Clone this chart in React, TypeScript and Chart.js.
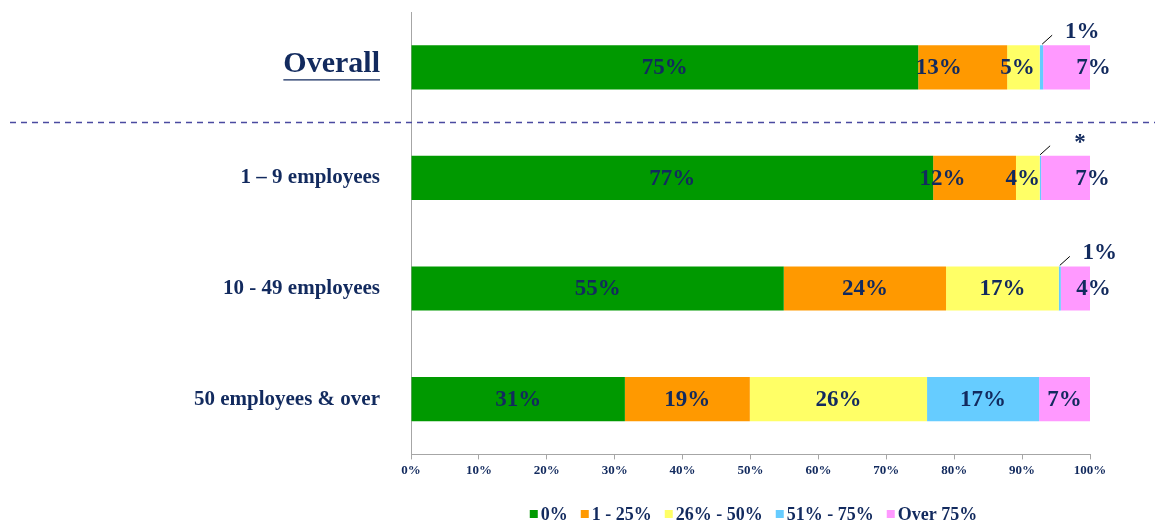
import React, { useEffect, useRef } from "react";
import { Chart, registerables } from "chart.js";

Chart.register(...registerables);

const categories = ["Overall", "1 – 9 employees", "10 - 49 employees", "50 employees & over"];
const seriesNames = ["0%", "1 - 25%", "26% - 50%", "51% - 75%", "Over 75%"];

const zeroPct = [74.7, 76.9, 54.9, 31.5];
const upTo25 = [13.1, 12.2, 23.9, 18.4];
const from26to50 = [4.8, 3.5, 16.6, 26.1];
const from51to75 = [0.5, 0.2, 0.3, 16.5];
const over75 = [6.9, 7.2, 4.3, 7.5];

const zeroLabels = ["75%", "77%", "55%", "31%"];
const upTo25Labels = ["13%", "12%", "24%", "19%"];
const from26to50Labels = ["5%", "4%", "17%", "26%"];
const from51to75Labels = ["1%", "*", "1%", "17%"];
const over75Labels = ["7%", "7%", "4%", "7%"];

const xTickValues = [0, 10, 20, 30, 40, 50, 60, 70, 80, 90, 100];

const COLORS = ["#009900", "#ff9900", "#ffff66", "#66ccff", "#ff99ff"];
const NAVY = "#122a5e";
const AXIS = "#a6a6a6";
const SERIF = "'Liberation Serif', 'Times New Roman', serif";

// label nudges (px) for crowded segments: key = dataset-index
const labelShift: Record<string, number> = {
  "1-0": -24,
  "1-1": -32,
  "2-0": -6,
  "2-1": -5,
  "4-0": 27,
  "4-1": 27,
  "4-2": 18,
};

const seriesData = [zeroPct, upTo25, from26to50, from51to75, over75];
const seriesLabels = [zeroLabels, upTo25Labels, from26to50Labels, from51to75Labels, over75Labels];

const overlayPlugin = {
  id: "overlay",
  afterDatasetsDraw(chart: any) {
    const ctx = chart.ctx;
    const area = chart.chartArea;
    const y = chart.scales.y;
    ctx.save();

    // dashed separator between Overall and the size groups
    const sepY = (y.getPixelForValue(0) + y.getPixelForValue(1)) / 2;
    ctx.strokeStyle = "#4a4aa0";
    ctx.lineWidth = 1.5;
    ctx.setLineDash([6, 5]);
    ctx.beginPath();
    ctx.moveTo(10, sepY);
    ctx.lineTo(chart.width, sepY);
    ctx.stroke();
    ctx.setLineDash([]);

    // category labels
    const right = area.left - 31;
    ctx.fillStyle = NAVY;
    ctx.textAlign = "right";
    ctx.textBaseline = "middle";
    categories.forEach((c, i) => {
      const cy = y.getPixelForValue(i);
      if (i === 0) {
        ctx.font = `bold 30px ${SERIF}`;
        ctx.fillText(c, right, cy - 3);
        const w = ctx.measureText(c).width;
        ctx.strokeStyle = NAVY;
        ctx.lineWidth = 1.3;
        ctx.beginPath();
        ctx.moveTo(right - w, cy + 12.5);
        ctx.lineTo(right, cy + 12.5);
        ctx.stroke();
      } else {
        ctx.font = `bold 21px ${SERIF}`;
        ctx.fillText(c, right, cy);
      }
    });

    // data labels
    ctx.font = `bold 23px ${SERIF}`;
    ctx.fillStyle = NAVY;
    ctx.textAlign = "center";
    ctx.textBaseline = "middle";
    chart.data.datasets.forEach((ds: any, di: number) => {
      const meta = chart.getDatasetMeta(di);
      meta.data.forEach((el: any, i: number) => {
        const val = seriesData[di][i];
        const text = seriesLabels[di][i];
        const props = el.getProps(["x", "y", "base", "height"], true);
        if (val < 2) {
          const top = props.y - props.height / 2;
          const sx = props.x - 1;
          ctx.strokeStyle = "#000";
          ctx.lineWidth = 1;
          ctx.beginPath();
          ctx.moveTo(sx, top - 1);
          ctx.lineTo(sx + 10, top - 10);
          ctx.stroke();
          ctx.fillText(text, sx + 40, top - 13);
        } else {
          const cx = (props.x + props.base) / 2 + (labelShift[`${di}-${i}`] || 0);
          ctx.fillText(text, cx, props.y + 1);
        }
      });
    });

    // legend
    ctx.font = `bold 18px ${SERIF}`;
    const box = 8;
    const gapBox = 3;
    const gapItem = 13;
    const widths = seriesNames.map((n) => ctx.measureText(n).width);
    const total = widths.reduce((s, w) => s + box + gapBox + w, 0) + gapItem * (seriesNames.length - 1);
    let lx = (area.left + area.right) / 2 + 3 - total / 2;
    const ly = 514;
    ctx.textAlign = "left";
    seriesNames.forEach((n, i) => {
      ctx.fillStyle = COLORS[i];
      ctx.fillRect(lx, ly - box / 2, box, box);
      lx += box + gapBox;
      ctx.fillStyle = NAVY;
      ctx.fillText(n, lx, ly + 1);
      lx += widths[i] + gapItem;
    });

    ctx.restore();
  },
};

export default function App() {
  const ref = useRef<HTMLCanvasElement | null>(null);

  useEffect(() => {
    document.body.style.margin = "0";
    if (!ref.current) return;
    const chart = new Chart(ref.current, {
      type: "bar",
      data: {
        labels: categories,
        datasets: seriesNames.map((name, i) => ({
          label: name,
          data: seriesData[i],
          backgroundColor: COLORS[i],
          borderWidth: 0,
          barPercentage: 0.8,
          categoryPercentage: 0.5,
        })),
      },
      options: {
        indexAxis: "y",
        animation: false,
        responsive: false,
        maintainAspectRatio: false,
        layout: { padding: { top: 12, right: 65, left: 0, bottom: 44 } },
        plugins: {
          legend: { display: false },
          tooltip: { enabled: false },
        },
        scales: {
          x: {
            stacked: true,
            min: 0,
            max: 100,
            afterBuildTicks: (scale: any) => {
              scale.ticks = xTickValues.map((v) => ({ value: v }));
            },
            grid: {
              display: true,
              drawOnChartArea: false,
              drawTicks: true,
              tickLength: 5,
              color: AXIS,
            },
            border: { display: true, color: AXIS, width: 1 },
            ticks: {
              padding: 3,
              color: NAVY,
              font: { family: SERIF, size: 13, weight: "bold" },
              callback: (v: any) => `${v}%`,
              maxRotation: 0,
            },
          },
          y: {
            stacked: true,
            afterFit: (scale: any) => {
              scale.width = 411;
            },
            grid: { display: false, drawTicks: false },
            border: { display: true, color: AXIS, width: 1 },
            ticks: { display: false },
          },
        },
      },
      plugins: [overlayPlugin],
    } as any);
    return () => chart.destroy();
  }, []);

  return <canvas ref={ref} width={1155} height={525} style={{ display: "block" }} />;
}
